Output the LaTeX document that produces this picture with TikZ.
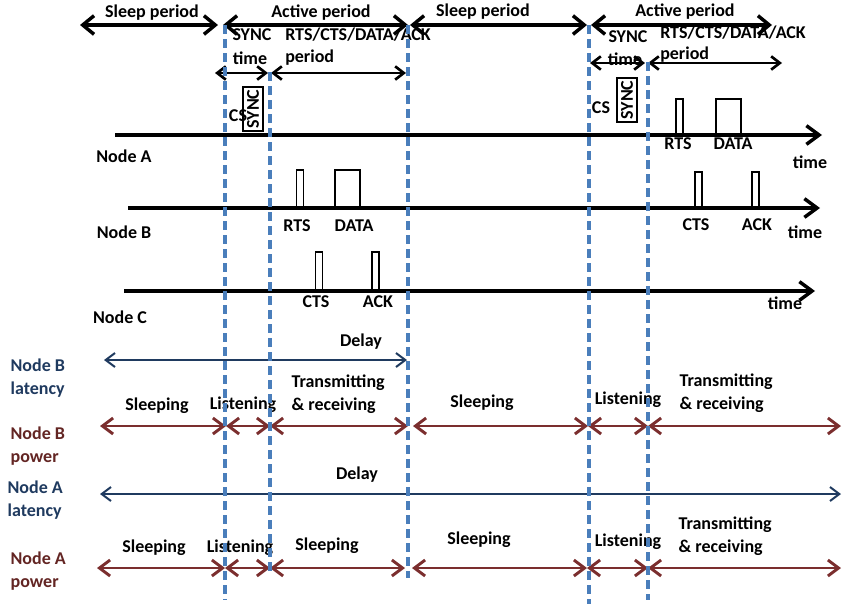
\documentclass[tikz,border=0pt]{standalone}
\usepackage{fontspec}
\setmainfont{Carlito}
\usetikzlibrary{arrows.meta,positioning,calc}
\definecolor{slotBlue}{HTML}{4A7EBB}
\definecolor{latNavy}{HTML}{1F3A5F}
\definecolor{powBrown}{HTML}{7B2E2E}
\definecolor{powText}{HTML}{632523}

\begin{document}
\begin{tikzpicture}[x=0.75pt,y=-0.75pt,
    font=\bfseries\fontsize{13.5}{17}\selectfont,
    bigbarb/.tip={Straight Barb[length=8.5pt,width=14pt]},
    axisbarb/.tip={Straight Barb[length=9.5pt,width=14pt]},
    midbarb/.tip={Straight Barb[length=6.5pt,width=10pt]},
    latbarb/.tip={Straight Barb[length=7pt,width=10.5pt]},
    powbarb/.tip={Straight Barb[length=8pt,width=12pt]},
    periodarr/.style={bigbarb-bigbarb,line width=2.6pt},
    subarr/.style={midbarb-midbarb,line width=2pt},
    timeaxis/.style={-axisbarb,line width=2.6pt},
    latarr/.style={latbarb-latbarb,latNavy,line width=1.5pt},
    powarr/.style={powbarb-powbarb,powBrown,line width=2.2pt},
    slotline/.style={slotBlue,line width=2.4pt,dash pattern=on 6.5pt off 4pt},
    pkt/.style={draw,line width=1.4pt,inner sep=0pt,anchor=south,minimum width=5.2pt},
    syncbox/.style={draw,line width=1.2pt,rotate=90,inner xsep=2pt,inner ysep=3pt},
    twoline/.style={align=left,anchor=west,inner sep=1pt}]
  \useasboundingbox (0,0) rectangle (843,604);

  % period arrows on top
  \coordinate (sp1a) at (80,25);  \coordinate (sp1b) at (218,25);
  \coordinate (ap1a) at (223,25); \coordinate (ap1b) at (408,25);
  \coordinate (sp2a) at (410,25); \coordinate (sp2b) at (587,25);
  \coordinate (ap2a) at (591,25); \coordinate (ap2b) at (772,25);
  \draw[periodarr] (sp1a) -- (sp1b);
  \draw[periodarr] (ap1a) -- (ap1b);
  \draw[periodarr] (sp2a) -- (sp2b);
  \draw[periodarr] (ap2a) -- (ap2b);
  \node (sleep1) at (152,13) {Sleep period};
  \node (active1) at (321,13) {Active period};
  \node (sleep2) at (483,12) {Sleep period};
  \node (active2) at (685,12) {Active period};

  % sync and data sub-periods
  \coordinate (sy1a) at (215,73); \coordinate (sy1b) at (268,73);
  \coordinate (dp1a) at (271,73); \coordinate (dp1b) at (406,73);
  \coordinate (sy2a) at (590,63); \coordinate (sy2b) at (645,63);
  \coordinate (dp2a) at (648,63); \coordinate (dp2b) at (782,63);
  \draw[subarr] (sy1a) -- (sy1b);
  \draw[subarr] (dp1a) -- (dp1b);
  \draw[subarr] (sy2a) -- (sy2b);
  \draw[subarr] (dp2a) -- (dp2b);
  \node (synclbl1) at (252,35) {SYNC};
  \node (timelbl1) at (250,58) {time};
  \node[anchor=west,inner sep=0pt] (rtslbl1) at (285,35) {RTS/CTS/DATA/ACK};
  \node[anchor=west,inner sep=0pt] (perlbl1) at (285,58) {period};
  \node (synclbl2) at (628,37) {SYNC};
  \node (timelbl2) at (625,59) {time};
  \node[anchor=west,inner sep=0pt] (rtslbl2) at (660,33) {RTS/CTS/DATA/ACK};
  \node[anchor=west,inner sep=0pt] (perlbl2) at (660,55) {period};

  % node time axes
  \coordinate (axA0) at (115,135); \coordinate (axA1) at (822,135);
  \coordinate (axB0) at (128,208); \coordinate (axB1) at (820,208);
  \coordinate (axC0) at (124,291); \coordinate (axC1) at (815,291);
  \draw[timeaxis] (axA0) -- (axA1);
  \draw[timeaxis] (axB0) -- (axB1);
  \draw[timeaxis] (axC0) -- (axC1);
  \node (nodeA) at (124,156) {Node A};
  \node (nodeB) at (124,232) {Node B};
  \node (nodeC) at (120,317) {Node C};
  \node (timeA) at (810,162) {time};
  \node (timeB) at (805,232) {time};
  \node (timeC) at (785,303) {time};

  % carrier sense and sync packets
  \node (cs1) at (238,116) {CS};
  \node[syncbox] (sync1) at (253,109) {SYNC};
  \node (cs2) at (601,108) {CS};
  \node[syncbox] (sync2) at (627,100) {SYNC};

  % packets
  \node[pkt,minimum height=26.2pt] (rtsA) at (679.5,135) {};
  \node[pkt,minimum height=26.2pt,minimum width=18.7pt] (dataA) at (728.5,135) {};
  \node (rtsAl) at (678,144) {RTS};
  \node (dataAl) at (733,144) {DATA};
  \node[pkt,minimum height=27.7pt] (rtsB) at (300,208) {};
  \node[pkt,minimum height=27.7pt,minimum width=18.7pt] (dataB) at (347.5,208) {};
  \node (rtsBl) at (297,226) {RTS};
  \node (dataBl) at (354,226) {DATA};
  \node[pkt,minimum height=26.2pt] (ctsB) at (698.5,208) {};
  \node[pkt,minimum height=26.2pt] (ackB) at (755.5,208) {};
  \node (ctsBl) at (696,225) {CTS};
  \node (ackBl) at (757,225) {ACK};
  \node[pkt,minimum height=28.5pt] (ctsC) at (319,291) {};
  \node[pkt,minimum height=28.5pt] (ackC) at (375.5,291) {};
  \node (ctsCl) at (316,302) {CTS};
  \node (ackCl) at (378,302) {ACK};

  % node B latency and power
  \node[twoline,text=latNavy] (latB) at (9,378) {Node B\\latency};
  \coordinate (lB0) at (104,360); \coordinate (lB1) at (407,360);
  \draw[latarr] (lB0) -- (lB1);
  \node (delayB) at (361,342) {Delay};
  \node[twoline,text=powText] (powB) at (9,446) {Node B\\power};
  \foreach \n/\x in {0/100,1/226,2/270,3/408,4/413,5/588,6/648,7/841}
    \coordinate (bp\n) at (\x,426);
  \foreach \a/\b in {0/1,1/2,2/3,4/5,5/6,6/7}
    \draw[powarr] (bp\a) -- (bp\b);
  \node (bsl1) at (157,406) {Sleeping};
  \node (bli1) at (243,405) {Listening};
  \node[twoline] (btr1) at (290,394) {Transmitting\\\& receiving};
  \node (bsl2) at (482,403) {Sleeping};
  \node (bli2) at (628,400) {Listening};
  \node[twoline] (btr2) at (678,393) {Transmitting\\\& receiving};

  % node A latency and power
  \node[twoline,text=latNavy] (latA) at (6,500) {Node A\\latency};
  \coordinate (lA0) at (100,494); \coordinate (lA1) at (841,494);
  \draw[latarr] (lA0) -- (lA1);
  \node (delayA) at (357,475) {Delay};
  \node[twoline,text=powText] (powA) at (9,571) {Node A\\power};
  \foreach \n/\x in {0/97,1/225,2/270,3/405,4/412,5/587,6/648,7/841}
    \coordinate (ap\n) at (\x,568);
  \foreach \a/\b in {0/1,1/2,2/3,4/5,5/6,6/7}
    \draw[powarr] (ap\a) -- (ap\b);
  \node (asl1) at (154,548) {Sleeping};
  \node (ali1) at (240,548) {Listening};
  \node (asl2) at (327,546) {Sleeping};
  \node (asl3) at (479,540) {Sleeping};
  \node (ali2) at (628,542) {Listening};
  \node[twoline] (atr2) at (677,536) {Transmitting\\\& receiving};

  % slot boundaries
  \foreach \n/\x/\ya/\yb in {1/225/25/600,2/270/72/575,3/408/25/578,4/589/25/604,5/648/62/600} {
    \coordinate (top\n) at (\x,\ya);
    \coordinate (bot\n) at (\x,\yb);
    \draw[slotline] (top\n) -- (bot\n);
  }
\end{tikzpicture}
\end{document}
